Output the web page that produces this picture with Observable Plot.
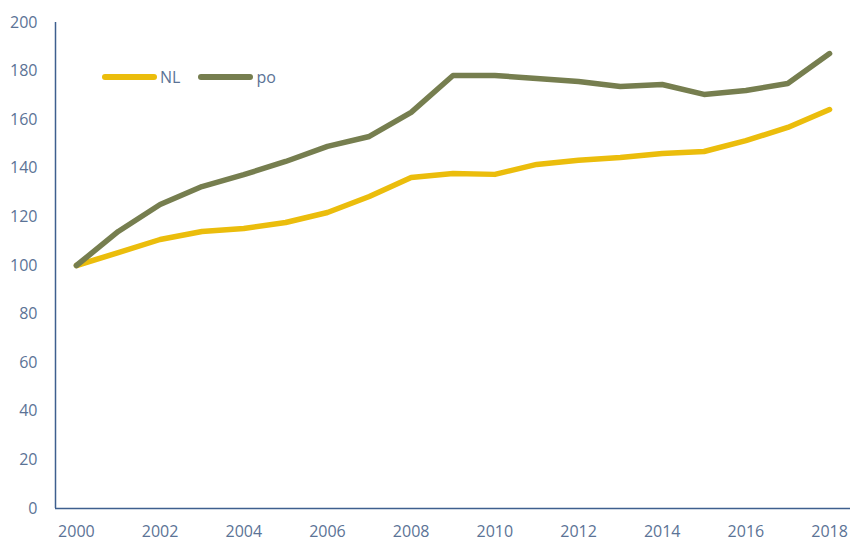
<!DOCTYPE html>
<html><head><meta charset="utf-8">
<script src="https://cdn.jsdelivr.net/npm/d3@7"></script>
<script src="https://cdn.jsdelivr.net/npm/@observablehq/plot@0.6"></script>
<style>
body{margin:0;background:#fff;}
#wrap{position:relative;width:850px;height:541px;font-family:"Open Sans",sans-serif;}
#legend{position:absolute;left:102px;top:66px;display:flex;align-items:center;font-size:16px;color:#5B7396;}
.sw{display:inline-block;width:55px;height:6px;border-radius:3px;margin-right:3px;}
.it{display:flex;align-items:center;margin-right:18px;}
</style></head><body>
<div id="wrap"><div id="legend"></div></div>
<script>
const years = [2000,2001,2002,2003,2004,2005,2006,2007,2008,2009,2010,2011,2012,2013,2014,2015,2016,2017,2018];
const nl = [100,105.3,110.7,114,115.2,117.7,121.8,128.4,136.2,137.9,137.5,141.6,143.3,144.4,146.1,146.9,151.4,156.8,164.2];
const po = [100,114,125.1,132.5,137.4,142.8,149,153.1,163,178.2,178.2,177,175.7,173.7,174.5,170.4,172,174.9,187.2];
const seriesNames = ["NL","po"];
const colors = ["#EBBD0C","#767E4F"];
const yTicks = [0,20,40,60,80,100,120,140,160,180,200];
const xTicks = [2000,2002,2004,2006,2008,2010,2012,2014,2016,2018];

const data = [];
years.forEach((y,i)=>{data.push({year:y,value:nl[i],s:"NL"});data.push({year:y,value:po[i],s:"po"});});

const axisColor = "#3E5F8E";
const textColor = "#5B7396";
const chart = Plot.plot({
  width:850, height:541,
  marginLeft:55, marginRight:0, marginTop:22, marginBottom:33,
  style:{fontFamily:"'Open Sans', sans-serif", fontSize:"16px", color:textColor, background:"transparent"},
  x:{domain:[1999.5,2018.5], label:null},
  y:{domain:[0,200], label:null},
  color:{domain:seriesNames, range:colors},
  marks:[
    Plot.axisX({ticks:xTicks, tickFormat:d=>String(d), tickSize:0, tickPadding:17, label:null, fill:textColor}),
    Plot.axisY({ticks:yTicks, tickSize:0, tickPadding:18, label:null, fill:textColor}),
    Plot.ruleY([0],{stroke:axisColor, strokeWidth:1.5}),
    Plot.ruleX([1999.5],{stroke:axisColor, strokeWidth:1.5}),
    Plot.line(data,{x:"year",y:"value",stroke:"s",z:"s",strokeWidth:5.5,strokeLinejoin:"round",strokeLinecap:"round"})
  ]
});
const wrap = document.getElementById("wrap");
wrap.insertBefore(chart, wrap.firstChild);
const lg = document.getElementById("legend");
seriesNames.forEach((n,i)=>{
  const it=document.createElement("div");it.className="it";
  const sw=document.createElement("span");sw.className="sw";sw.style.background=colors[i];
  it.appendChild(sw);it.appendChild(document.createTextNode(n));lg.appendChild(it);
});
</script>
</body></html>
